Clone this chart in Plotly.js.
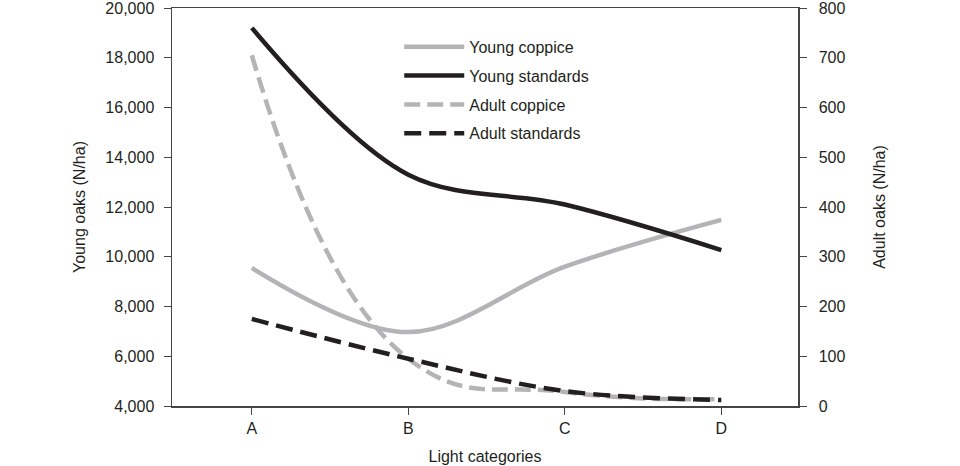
<!DOCTYPE html>
<html>
<head>
<meta charset="utf-8">
<script src="https://cdn.plot.ly/plotly-3.0.1.min.js"></script>
<style>html,body{margin:0;padding:0;background:#fff;}#chart{width:960px;height:466px;}</style>
</head>
<body>
<div id="chart"></div>
<script>
const categories = ["A", "B", "C", "D"];
const youngCoppice = [9550, 6970, 9600, 11480];
const youngStandards = [19200, 13300, 12100, 10270];
const adultCoppice = [705, 95, 28, 14];
const adultStandards = [175, 95, 30, 12];

const black = "#231f20";
const gray = "#b4b4b6";
const axisColor = "#444";

const traces = [
  {x: categories, y: youngCoppice, name: "Young coppice", type: "scatter", mode: "lines",
   line: {color: gray, width: 4.5, shape: "spline"}, legendgroup: "g1"},
  {x: categories, y: youngStandards, name: "Young standards", type: "scatter", mode: "lines",
   line: {color: black, width: 4.5, shape: "spline"}, legendgroup: "g2"},
  {x: categories, y: adultCoppice, name: "Adult coppice", type: "scatter", mode: "lines", yaxis: "y2",
   line: {color: gray, width: 4.5, shape: "spline", smoothing: 1.3, dash: "16px,7px"}, legendgroup: "g3"},
  {x: categories, y: adultStandards, name: "Adult standards", type: "scatter", mode: "lines", yaxis: "y2",
   line: {color: black, width: 4.5, shape: "spline", dash: "17px,8px"}, legendgroup: "g4"}
];

const font = {family: "Liberation Sans, Arial, sans-serif", size: 16, color: black};

const layout = {
  width: 960, height: 466,
  margin: {l: 172, r: 162, t: 8, b: 60},
  paper_bgcolor: "#ffffff", plot_bgcolor: "#ffffff",
  font: font,
  showlegend: true,
  legend: {x: 0.363, y: 0.945, xanchor: "left", yanchor: "top", bgcolor: "rgba(0,0,0,0)",
           itemwidth: 60, tracegroupgap: 5, traceorder: "grouped", font: {size: 16, color: black}},
  xaxis: {type: "category", range: [-0.51, 3.49], showgrid: false, zeroline: false,
          showline: true, linecolor: axisColor, linewidth: 1.5, mirror: true,
          ticks: "outside", ticklen: 7, tickcolor: axisColor,
          title: {text: "Light categories", font: {size: 16, color: black}, standoff: 15}},
  yaxis: {range: [4000, 20000], dtick: 2000, tickformat: ",d", showgrid: false, zeroline: false,
          showline: true, linecolor: axisColor, linewidth: 1.5, ticklabeloverflow: "allow",
          ticks: "outside", ticklen: 7, tickcolor: axisColor, ticklabelstandoff: 6,
          title: {text: "Young oaks (N/ha)", font: {size: 16, color: black}, standoff: 16}},
  yaxis2: {range: [0, 800], dtick: 100, overlaying: "y", side: "right", showgrid: false, zeroline: false,
           showline: true, linecolor: axisColor, linewidth: 1.5, ticklabeloverflow: "allow",
           ticks: "outside", ticklen: 7, tickcolor: axisColor, ticklabelstandoff: 9,
           title: {text: "Adult oaks (N/ha)", font: {size: 16, color: black}, standoff: 29}}
};

Plotly.newPlot("chart", traces, layout, {staticPlot: true});
</script>
</body>
</html>
